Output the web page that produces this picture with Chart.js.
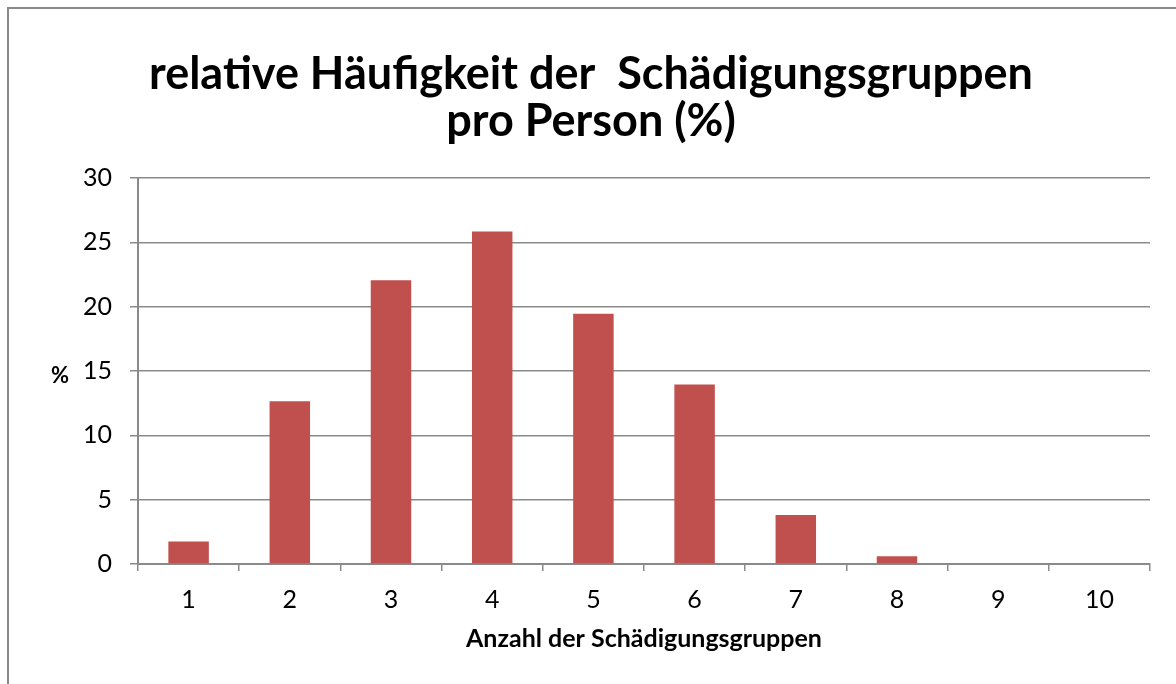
<!DOCTYPE html>
<html>
<head>
<meta charset="utf-8">
<script src="https://cdn.jsdelivr.net/npm/chart.js@4/dist/chart.umd.min.js"></script>
<style>
    html, body { margin: 0; padding: 0; background: #fff; }
    #wrap { width: 1176px; height: 684px; }
</style>
</head>
<body>
<div id="wrap"><canvas id="chart"></canvas></div>
<script>
// Data
const categories = ['1', '2', '3', '4', '5', '6', '7', '8', '9', '10'];
const percentValues = [1.75, 12.65, 22.05, 25.85, 19.45, 13.95, 3.8, 0.6, 0, 0];
const yTicks = [0, 5, 10, 15, 20, 25, 30];

const titleLines = ['relative Häufigkeit der  Schädigungsgruppen', 'pro Person (%)'];
const xTitle = 'Anzahl der Schädigungsgruppen';
const yTitle = '%';

const FONT = 'Lato, "Open Sans", sans-serif';
const GRID = '#8a8a8a';

// outer frame + horizontal "%" label
const framePlugin = {
    id: 'frame',
    beforeDraw(chart) {
        const ctx = chart.ctx;
        ctx.save();
        ctx.fillStyle = '#fff';
        ctx.fillRect(0, 0, chart.width, chart.height);
        ctx.strokeStyle = GRID;
        ctx.lineWidth = 2;
        ctx.strokeRect(8, 8, chart.width + 20, chart.height + 20);
        ctx.restore();
    },
    afterDraw(chart) {
        const ctx = chart.ctx;
        const area = chart.chartArea;
        ctx.save();
        ctx.font = 'bold 22px ' + FONT;
        ctx.fillStyle = '#000';
        ctx.textAlign = 'center';
        ctx.textBaseline = 'middle';
        ctx.fillText(yTitle, 60, (area.top + area.bottom) / 2 + 5);
        ctx.restore();
    }
};

const ctx = document.getElementById('chart').getContext('2d');
new Chart(ctx, {
    type: 'bar',
    data: {
        labels: categories,
        datasets: [{
            data: percentValues,
            backgroundColor: '#C0504D',
            borderWidth: 0,
            barPercentage: 0.4,
            categoryPercentage: 1.0
        }]
    },
    options: {
        responsive: true,
        maintainAspectRatio: false,
        animation: false,
        layout: { padding: { left: 32, right: 26, top: 0, bottom: 0 } },
        plugins: {
            legend: { display: false },
            tooltip: { enabled: false },
            title: {
                display: true,
                text: titleLines,
                color: '#000',
                font: { family: FONT, size: 45, weight: 'bold', lineHeight: 1.045 },
                padding: { top: 51, bottom: 33 }
            }
        },
        scales: {
            x: {
                afterFit(scale) {
                    scale.height = 120;
                },
                grid: {
                    offset: true,
                    drawOnChartArea: false,
                    drawTicks: true,
                    tickLength: 7,
                    color: GRID,
                    lineWidth: 1.5
                },
                border: { color: GRID, width: 2 },
                ticks: {
                    color: '#000',
                    font: { family: FONT, size: 25 },
                    padding: 14
                },
                title: {
                    display: true,
                    text: xTitle,
                    color: '#000',
                    font: { family: FONT, size: 25, weight: 'bold' },
                    padding: { top: 12, bottom: 30 }
                }
            },
            y: {
                min: 0,
                max: 30,
                afterBuildTicks(scale) {
                    scale.ticks = yTicks.map(v => ({ value: v }));
                },
                afterFit(scale) {
                    scale.width = 106;
                },
                grid: {
                    color: GRID,
                    lineWidth: 1.5,
                    tickLength: 8
                },
                border: { color: GRID, width: 2 },
                ticks: {
                    color: '#000',
                    font: { family: FONT, size: 25 },
                    padding: 18
                }
            }
        }
    },
    plugins: [framePlugin]
});
</script>
</body>
</html>
